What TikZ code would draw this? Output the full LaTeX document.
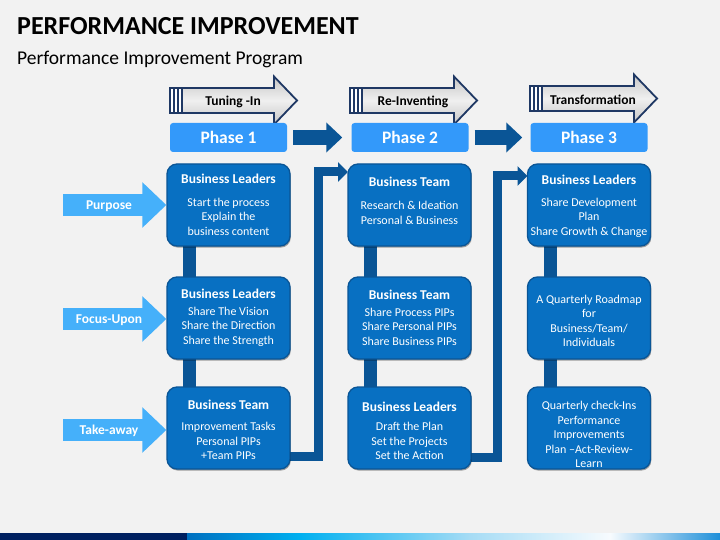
\documentclass[tikz,border=0pt]{standalone}
\usepackage{fontspec}
\setmainfont{Carlito}
\usetikzlibrary{arrows.meta,calc,shadows}
\definecolor{bgc}{HTML}{F2F2F2}
\definecolor{boxc}{HTML}{0870C2}
\definecolor{boxd}{HTML}{0A5596}
\definecolor{linkc}{HTML}{0A5596}
\definecolor{phasec}{HTML}{3399FA}
\definecolor{lblc}{HTML}{45B0FA}
\definecolor{navy}{HTML}{1F3864}
\definecolor{bnavy}{HTML}{002060}
\definecolor{g1}{HTML}{0070C0}
\definecolor{g2}{HTML}{00B0F0}
\definecolor{g3}{HTML}{A6DCF5}
\definecolor{g4}{HTML}{F7FBFE}
\definecolor{g5}{HTML}{1E8FD9}
\begin{document}
\begin{tikzpicture}[x=1pt,y=-1pt,
  bbox/.style={fill=boxc,draw=boxd,line width=1.3pt,rounded corners=10pt,
    minimum width=123pt,minimum height=82pt,inner sep=0pt,
    drop shadow={shadow xshift=0.8pt,shadow yshift=-1.6pt,opacity=0.35,fill=black}},
  hdr/.style={text=white,font=\fontsize{13.5}{15}\selectfont\bfseries,inner sep=0pt},
  body/.style={text=white,font=\fontsize{12}{14.5}\selectfont,align=center,inner sep=0pt},
  phase/.style={fill=phasec,rounded corners=3pt,minimum width=117pt,minimum height=29pt,
    text=white,font=\fontsize{17.5}{19}\selectfont\bfseries,inner sep=0pt},
  barv/.style={draw=linkc,line width=13pt},
  link/.style={draw=linkc,line width=9pt,line join=miter,-{Triangle[length=10pt,width=19pt]}},
  parrow/.style={draw=linkc,line width=15pt,-{Triangle[length=16pt,width=29pt]}},
  larrow/.style={draw=lblc,line width=22pt,-{Triangle[length=24pt,width=44pt]}},
  lbl/.style={text=white,font=\fontsize{13.5}{15}\selectfont\bfseries,inner sep=0pt},
  htext/.style={text=black,font=\fontsize{13.5}{15}\selectfont\bfseries,inner sep=0pt}
]
\useasboundingbox (0,0) rectangle (720,540);
\fill[bgc] (0,0) rectangle (720,540);

% title
\node[anchor=base west,inner sep=0pt,font=\fontsize{26}{28}\selectfont\bfseries] (title) at (17,35) {PERFORMANCE IMPROVEMENT};
\node[anchor=base west,inner sep=0pt,font=\fontsize{19.5}{21}\selectfont] (subtitle) at (17,65) {Performance Improvement Program};

% header arrows
\foreach \L/\dy/\txt/\nm in {170/0/Tuning -In/ha1,350/0/Re-Inventing/ha2,530/-2/Transformation/ha3}{
  \begin{scope}[shift={(\L,\dy)}]
    \path[draw=navy,line width=1.8pt,line join=miter,top color=gray!45,bottom color=gray!45,middle color=gray!12]
      (0,88) -- (104,88) -- (104,76.5) -- (127,100.5) -- (104,124.5) -- (104,113) -- (0,113) -- cycle;
    \fill[white] (1,89) rectangle (11.5,112);
    \draw[navy,line width=1.6pt] (4,88) -- (4,113) (8,88) -- (8,113) (12,88) -- (12,113);
    \node[htext] (\nm) at (63,101.5) {\txt};
  \end{scope}
}

% phase boxes
\node[phase] (p1) at (228.5,137.5) {Phase 1};
\node[phase] (p2) at (410,137.5) {Phase 2};
\node[phase] (p3) at (589,137.5) {Phase 3};
\draw[parrow,shorten <=6pt,shorten >=9pt] (p1.east) -- (p2.west);
\draw[parrow,shorten <=6pt,shorten >=8pt] (p2.east) -- (p3.west);

% boxes (positions)
\path (228.5,205) coordinate (c11) (228.5,318) coordinate (c12) (228.5,428) coordinate (c13)
      (409.5,205) coordinate (c21) (409.5,318) coordinate (c22) (409.5,428) coordinate (c23)
      (589,205) coordinate (c31) (589,318) coordinate (c32) (589,428) coordinate (c33);

% vertical bars between boxes (behind)
\foreach \c in {1,2,3}{
  \draw[barv] ($(c\c1)+(-39,30)$) -- ($(c\c2)+(-39,-30)$);
  \draw[barv] ($(c\c2)+(-39,30)$) -- ($(c\c3)+(-39,-30)$);
}

% bent connectors
\draw[link] ($(c13)+(55,28)$) -| ($(c21)+(-91,-33)$) -- ($(c21)+(-61.5,-33)$);
\draw[link] ($(c23)+(55,29)$) -| ($(c31)+(-91.5,-29)$) -- ($(c31)+(-61.5,-29)$);

\foreach \n in {11,12,13,21,22,23,31,32,33}{
  \node[bbox] (b\n) at (c\n) {};
}

% texts
\node[hdr] (h11) at (228.5,178.5) {Business Leaders};
\node[body] (t11) at (228.5,216.5) {Start the process\\Explain the\\business content};
\node[hdr] (h12) at (228.5,293.5) {Business Leaders};
\node[body] (t12) at (228.5,326.5) {Share The Vision\\Share the Direction\\Share the Strength};
\node[hdr] (h13) at (228.5,404.5) {Business Team};
\node[body] (t13) at (228.5,441) {Improvement Tasks\\Personal PIPs\\+Team PIPs};

\node[hdr] (h21) at (409.5,181.5) {Business Team};
\node[body] (t21) at (409.5,213) {Research \& Ideation\\Personal \& Business};
\node[hdr] (h22) at (409.5,294.5) {Business Team};
\node[body] (t22) at (409.5,326.5) {Share Process PIPs\\Share Personal PIPs\\Share Business PIPs};
\node[hdr] (h23) at (409.5,406.5) {Business Leaders};
\node[body] (t23) at (409.5,441) {Draft the Plan\\Set the Projects\\Set the Action};

\node[hdr] (h31) at (589,179.5) {Business Leaders};
\node[body] (t31) at (589,217.5) {Share Development\\Plan\\Share Growth \& Change};
\node[body] (t32) at (589,321) {A Quarterly Roadmap\\for\\Business/Team/\\Individuals};
\node[body] (t33) at (589,434.5) {Quarterly check-Ins\\Performance\\Improvements\\Plan –Act-Review-\\Learn};

% left arrows
\coordinate (la1) at (63,205);
\coordinate (la2) at (63,319);
\coordinate (la3) at (63,430);
\draw[larrow] (la1) -- (b11.west |- la1);
\draw[larrow] (la2) -- (b12.west |- la2);
\draw[larrow] (la3) -- (b13.west |- la3);
\node[lbl] (l1) at (109,206) {Purpose};
\node[lbl] (l2) at (109,320) {Focus-Upon};
\node[lbl] (l3) at (109,431) {Take-away};

% bottom bar
\fill[bnavy] (0,533) rectangle (187,540);
\shade[left color=g1,right color=g2] (187,533) rectangle (300.5,540);
\shade[left color=g2,right color=g3] (300,533) rectangle (470.5,540);
\shade[left color=g3,right color=g4] (470,533) rectangle (610.5,540);
\shade[left color=g4,right color=g5] (610,533) rectangle (720,540);
\end{tikzpicture}
\end{document}
